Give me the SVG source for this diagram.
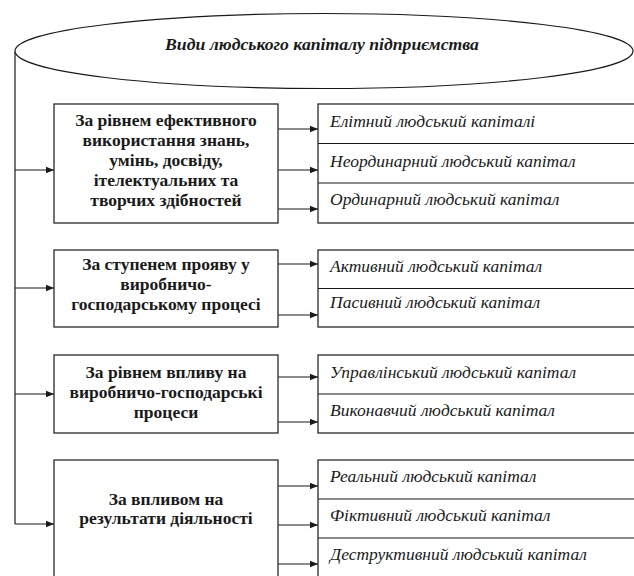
<svg xmlns="http://www.w3.org/2000/svg" width="634" height="576" viewBox="0 0 634 576">
<defs>
<marker id="ah" markerWidth="8" markerHeight="8" refX="8" refY="4" orient="auto" markerUnits="userSpaceOnUse">
<path d="M0,0.8 L8,4 L0,7.2 Z" fill="#1a1a1a"/>
</marker>
</defs>
<style>
.box{fill:#fff;stroke:#2a2a2a;stroke-width:1.3}
.ln{fill:none;stroke:#1a1a1a;stroke-width:1.2}
.ar{fill:none;stroke:#1a1a1a;stroke-width:1.2;marker-end:url(#ah)}
.t{font-family:"Liberation Serif","Times New Roman",serif;font-weight:bold;font-size:17.5px;fill:#1a1a1a;text-anchor:middle}
.r{font-family:"Liberation Serif","Times New Roman",serif;font-style:italic;font-size:17.5px;fill:#1a1a1a}
.h{font-family:"Liberation Serif","Times New Roman",serif;font-style:italic;font-weight:bold;font-size:17.7px;fill:#1a1a1a;text-anchor:middle}
</style>
<rect width="634" height="576" fill="#fff"/>
<g id="connectors">
<path class="ln" d="M15,52 V524"/>
<path class="ar" d="M15,170 H54"/>
<path class="ar" d="M15,288 H54"/>
<path class="ar" d="M15,394 H54"/>
<path class="ar" d="M15,524 H54"/>
<path class="ar" d="M278,129 H318"/>
<path class="ar" d="M278,170 H318"/>
<path class="ar" d="M278,209 H318"/>
<path class="ar" d="M278,264 H318"/>
<path class="ar" d="M278,315 H318"/>
<path class="ar" d="M278,377 H318"/>
<path class="ar" d="M278,422 H318"/>
<path class="ar" d="M278,486 H318"/>
<path class="ar" d="M278,525 H318"/>
<path class="ar" d="M278,564 H318"/>
</g>
<g id="root">
<ellipse cx="324" cy="51" rx="309" ry="37.5" fill="#fff" stroke="#1a1a1a" stroke-width="1.2"/>
<text class="h" x="322" y="50">Види людського капіталу підприємства</text>
</g>
<g id="c1">
<rect class="box" x="54" y="104" width="224" height="119"/>
<text class="t" x="166" y="126">За рівнем ефективного</text>
<text class="t" x="166" y="146">використання знань,</text>
<text class="t" x="166" y="166">умінь, досвіду,</text>
<text class="t" x="166" y="186">ітелектуальних та</text>
<text class="t" x="166" y="206">творчих здібностей</text>
</g>
<g id="c1-types">
<rect class="box" x="318" y="104" width="320" height="119"/>
<path class="ln" d="M318,143.5 H634 M318,183 H634"/>
<text class="r" x="330" y="127">Елітний людський капіталі</text>
<text class="r" x="330" y="167">Неординарний людський капітал</text>
<text class="r" x="330" y="205">Ординарний людський капітал</text>
</g>
<g id="c2">
<rect class="box" x="54" y="250" width="224" height="77"/>
<text class="t" x="166" y="270">За ступенем прояву у</text>
<text class="t" x="166" y="290">виробничо-</text>
<text class="t" x="166" y="310">господарському процесі</text>
</g>
<g id="c2-types">
<rect class="box" x="318" y="250" width="320" height="77"/>
<path class="ln" d="M318,288.5 H634"/>
<text class="r" x="330" y="272">Активний людський капітал</text>
<text class="r" x="330" y="308">Пасивний людський капітал</text>
</g>
<g id="c3">
<rect class="box" x="54" y="355" width="224" height="78"/>
<text class="t" x="166" y="378">За рівнем впливу на</text>
<text class="t" x="166" y="398">виробничо-господарські</text>
<text class="t" x="166" y="418">процеси</text>
</g>
<g id="c3-types">
<rect class="box" x="318" y="355" width="320" height="78"/>
<path class="ln" d="M318,394 H634"/>
<text class="r" x="330" y="378">Управлінський людський капітал</text>
<text class="r" x="330" y="416">Виконавчий людський капітал</text>
</g>
<g id="c4">
<rect class="box" x="54" y="460" width="224" height="130"/>
<text class="t" x="166" y="505">За впливом на</text>
<text class="t" x="166" y="524">результати діяльності</text>
</g>
<g id="c4-types">
<rect class="box" x="318" y="460" width="320" height="130"/>
<path class="ln" d="M318,499 H634 M318,538 H634"/>
<text class="r" x="330" y="482">Реальний людський капітал</text>
<text class="r" x="330" y="521">Фіктивний людський капітал</text>
<text class="r" x="330" y="560">Деструктивний людський капітал</text>
</g>
</svg>
